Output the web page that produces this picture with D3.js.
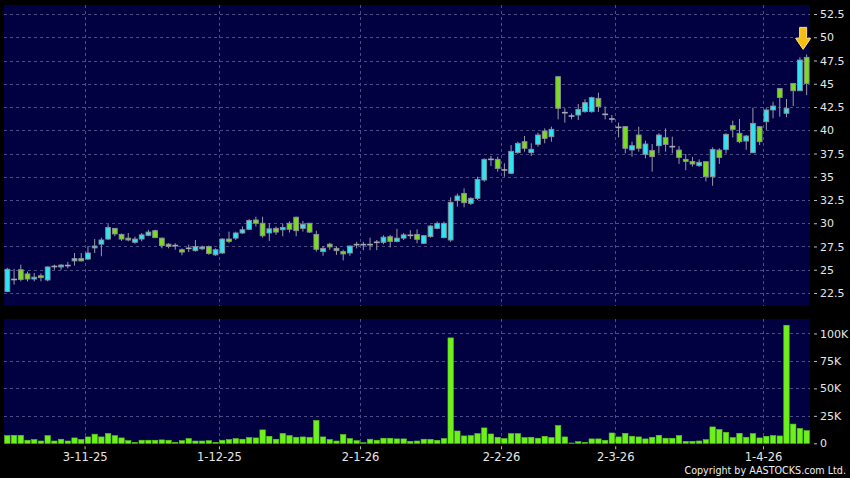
<!DOCTYPE html>
<html><head><meta charset="utf-8">
<script src="https://cdn.jsdelivr.net/npm/d3@7"></script>
<style>html,body{margin:0;padding:0;background:#000;}svg{display:block}</style>
</head><body><svg id="c" width="850" height="478"></svg>
<script>
const opens=[22.65,23.95,25.0,24.55,24.0,24.35,23.9,25.35,25.3,25.45,
25.95,26.2,26.15,27.35,27.75,28.3,29.45,28.8,28.4,27.95,
28.3,28.7,29.2,28.4,27.75,27.6,27.15,27.3,27.05,27.25,
27.5,26.6,26.8,28.3,28.4,28.95,29.35,30.35,30.0,28.95,
29.45,29.3,30.0,30.65,29.45,30.0,28.8,26.95,27.75,27.3,
26.95,26.8,27.7,27.7,27.7,27.95,27.95,28.55,28.05,28.4,
28.7,28.8,27.84,28.56,29.45,28.45,28.2,32.43,33.21,32.14,
32.68,34.65,36.87,36.87,35.73,35.37,37.59,38.77,37.59,38.49,
39.92,39.31,45.76,41.89,41.53,41.64,42.0,42.0,43.43,41.71,
41.21,40.31,40.39,37.88,39.49,37.41,37.81,38.34,39.2,38.24,
37.87,36.87,36.65,36.19,36.62,35.0,37.87,37.94,40.49,39.67,
38.84,37.58,40.38,40.92,42.18,44.5,41.82,45.04,44.25,47.84];
const highs=[25.2,25.1,25.55,24.8,24.65,24.6,25.35,25.55,25.6,25.85,
26.8,26.8,27.5,28.3,28.45,29.9,29.45,28.9,28.95,28.55,
28.95,29.3,29.3,28.45,27.85,27.85,27.3,27.7,28.2,27.6,
27.6,27.3,28.4,29.1,29.1,29.65,30.45,30.7,30.7,30.0,
29.65,29.95,30.2,30.7,30.25,30.0,29.2,27.55,27.9,27.5,
27.15,27.6,28.0,28.0,28.45,28.2,28.7,28.75,29.4,28.95,
29.25,29.35,28.73,29.8,30.17,30.17,32.79,33.2,33.75,32.79,
35.0,36.98,37.23,37.16,36.44,38.41,38.77,39.38,38.6,39.74,
40.2,40.39,45.8,42.36,41.8,42.82,43.33,43.61,44.04,42.54,
41.64,40.82,40.46,38.77,40.39,38.88,38.52,39.67,40.2,39.31,
38.3,37.45,37.13,36.87,36.62,38.16,38.06,39.67,41.03,41.21,
39.49,42.43,40.45,42.36,43.07,44.5,43.36,45.04,47.85,48.16];
const lows=[22.6,23.4,23.75,23.75,23.75,23.75,23.75,25.0,25.0,25.15,
25.45,25.9,26.05,26.8,26.45,28.2,28.6,28.1,28.05,27.8,
28.05,28.6,28.4,27.3,27.3,27.15,26.55,26.9,26.95,27.1,
26.6,26.5,26.7,27.85,28.2,28.85,29.3,29.65,28.45,28.1,
28.75,28.6,29.0,28.6,29.1,28.95,26.95,26.5,27.15,26.6,
26.0,26.5,27.3,27.1,27.1,27.1,27.75,27.4,27.95,28.2,
28.3,27.85,27.77,28.45,29.35,28.38,28.0,31.8,31.71,31.96,
32.5,34.47,36.15,35.55,35.0,35.3,37.48,37.7,37.23,38.24,
38.6,38.77,41.17,40.82,41.17,41.1,41.89,41.89,41.96,41.17,
40.82,39.24,37.52,37.16,37.7,36.98,35.55,37.52,37.7,37.52,
36.38,35.7,36.1,36.08,34.5,34.03,36.38,37.5,39.23,38.6,
37.9,37.58,38.41,40.03,41.28,41.46,41.4,42.6,44.25,43.78];
const closes=[25.05,23.95,23.95,24.0,24.2,24.15,25.3,25.35,25.5,25.45,
26.2,25.95,26.8,27.55,28.2,29.55,28.85,28.3,28.2,28.3,
28.75,29.05,28.45,27.6,27.5,27.6,26.9,27.3,27.5,27.45,
26.75,27.15,28.3,28.05,28.95,29.3,30.3,30.0,28.65,29.4,
29.05,29.55,29.35,29.2,29.9,29.05,27.2,27.3,27.45,27.05,
26.7,27.55,27.7,27.7,27.7,27.95,28.5,28.05,28.4,28.75,
28.7,28.27,28.66,29.7,29.99,29.99,32.25,32.93,32.21,32.68,
34.72,36.87,36.87,35.9,35.73,37.73,38.59,38.06,37.95,39.49,
39.13,40.1,42.36,41.89,41.53,42.25,42.97,43.5,42.54,41.71,
41.21,40.31,38.06,38.34,38.06,38.52,37.16,39.49,38.48,38.24,
37.08,36.65,36.37,36.55,35.0,37.94,37.08,39.56,40.1,38.77,
39.38,40.74,38.77,42.18,42.6,43.53,42.36,44.25,47.55,45.04];
const volumesK=[7,7.3,7.3,2.8,3.4,2.1,7,2.1,3.7,2.1,
4.9,3.4,5.8,8.3,5.8,8.9,7,4.9,2.4,0.9,
2.8,2.8,2.8,3.1,2.8,0.9,2.4,4.3,2.1,2.1,
2.4,0.9,2.8,3.4,4.3,3.7,5.2,4.9,12.2,6.4,
3.7,8.9,7,5.5,5.8,5.5,20.8,5.8,3.4,2.1,
8,4.3,2.4,0.6,3.7,2.8,4.6,4.6,4.0,4.0,
1.8,2.1,3.7,3.6,2.7,4.3,96,11.2,6.7,7,
8.8,14,8.5,5.5,4.3,8.8,8.8,5.2,5.5,4.6,
6.4,5.2,16.1,5.8,0.3,1.5,0.9,4,4,2.7,
9.4,5.8,9.1,6.4,5.8,4,5.5,7.3,4.6,4.6,
7,1.8,1.8,2.1,3.3,14.9,12.5,10,5.2,9.1,
5.5,8.8,4.9,6.4,7,6.7,107.5,17.5,13.5,11.5];
const dateLabels=["3-11-25","1-12-25","2-1-26","2-2-26","2-3-26","1-4-26"];
const dateTickIdx=[11.5,31.5,52.5,73.5,90.5,112.5];
const priceTicks=[22.5,25,27.5,30,32.5,35,37.5,40,42.5,45,47.5,50,52.5];
const volTicksK=[0,25,50,75,100];

const N=closes.length;
const svg=d3.select('#c');
const L=4,R=810,pT=5,pB=306,vT=319,vB=443.3;
const x=d3.scaleLinear().domain([-0.5,N-0.5]).range([L,R]);
const yP=d3.scaleLinear().domain([21.1,53.47]).range([pB,pT]);
const yV=d3.scaleLinear().domain([0,113.2]).range([vB,vT]);
const navy='#010141', gridC='#4b4b86';
const font='DejaVu Sans, Verdana, sans-serif';

svg.append('rect').attr('width',850).attr('height',478).attr('fill','#000');
svg.append('rect').attr('x',L).attr('y',pT).attr('width',R-L).attr('height',pB-pT).attr('fill',navy);
svg.append('rect').attr('x',L).attr('y',vT).attr('width',R-L).attr('height',vB-vT+0.5).attr('fill',navy);

// grids
const g=svg.append('g').attr('stroke',gridC).attr('stroke-width',1).attr('stroke-dasharray','3,3').attr('shape-rendering','crispEdges');
g.selectAll('.hp').data(priceTicks).join('line').attr('x1',L).attr('x2',R)
 .attr('y1',d=>Math.round(yP(d))+0.5).attr('y2',d=>Math.round(yP(d))+0.5);
g.selectAll('.hv').data(volTicksK.filter(d=>d>0)).join('line').attr('x1',L).attr('x2',R)
 .attr('y1',d=>Math.round(yV(d))+0.5).attr('y2',d=>Math.round(yV(d))+0.5);
g.selectAll('.vp').data(dateTickIdx).join('line').attr('x1',d=>Math.round(x(d))+0.5).attr('x2',d=>Math.round(x(d))+0.5).attr('y1',pT).attr('y2',pB);
g.selectAll('.vv').data(dateTickIdx).join('line').attr('x1',d=>Math.round(x(d))+0.5).attr('x2',d=>Math.round(x(d))+0.5).attr('y1',vT).attr('y2',vB);

// candles
const idx=d3.range(N);
const cg=svg.append('g');
cg.selectAll('.w').data(idx).join('line')
 .attr('x1',i=>x(i)).attr('x2',i=>x(i))
 .attr('y1',i=>yP(highs[i])).attr('y2',i=>yP(lows[i]))
 .attr('stroke','#9a9aa8').attr('stroke-width',1);
const bw=4.8;
idx.forEach(i=>{
  const o=opens[i],c=closes[i];
  if(Math.abs(o-c)<0.04){
    cg.append('line').attr('x1',x(i)-bw/2-0.5).attr('x2',x(i)+bw/2+0.5)
      .attr('y1',yP(o)).attr('y2',yP(o)).attr('stroke','#a8a8b0').attr('stroke-width',1.6);
  } else {
    const top=yP(Math.max(o,c)),bot=yP(Math.min(o,c));
    cg.append('rect').attr('x',x(i)-bw/2).attr('width',bw)
      .attr('y',top).attr('height',Math.max(1.5,bot-top))
      .attr('fill',c>o?'#2fe3f1':'#7bdc1f').attr('stroke','#8e8e96').attr('stroke-width',0.9);
  }
});

// volume bars
svg.append('g').selectAll('rect').data(idx).join('rect')
 .attr('x',i=>x(i)-2.7).attr('width',5.4)
 .attr('y',i=>yV(volumesK[i])).attr('height',i=>vB-yV(volumesK[i]))
 .attr('fill','#6ef01c').attr('stroke','#58c818').attr('stroke-width',0.6);

// axes
function styleAxis(sel){
  sel.select('.domain').remove();
  sel.selectAll('line').attr('stroke','#bbbbbb');
  sel.selectAll('text').attr('fill','#e6e6e6').attr('font-family',font);
}
svg.append('g').attr('transform',`translate(${R+4},0)`)
 .call(d3.axisRight(yP).tickValues(priceTicks).tickSize(3).tickPadding(3).tickFormat(d=>String(d)))
 .call(styleAxis).selectAll('text').attr('font-size',11);
svg.append('g').attr('transform',`translate(${R+4},0)`)
 .call(d3.axisRight(yV).tickValues(volTicksK).tickSize(3).tickPadding(3).tickFormat(d=>d===0?'0':d+'K'))
 .call(styleAxis).selectAll('text').attr('font-size',11);
svg.append('g').attr('transform',`translate(0,${vB+3})`)
 .call(d3.axisBottom(x).tickValues(dateTickIdx).tickSize(3).tickPadding(4).tickFormat((d,i)=>dateLabels[i]))
 .call(styleAxis).selectAll('text').attr('font-size',11.5);

// arrow marker above last candle
const ax=x(N-1)-3.5, tip=yP(highs[N-1])-5;
svg.append('path')
 .attr('d',`M${ax-3.5},${tip-22}L${ax+3.5},${tip-22}L${ax+3.5},${tip-11}L${ax+7.5},${tip-11}L${ax},${tip}L${ax-7.5},${tip-11}L${ax-3.5},${tip-11}Z`)
 .attr('fill','#f4bf12').attr('stroke','#ffe27a').attr('stroke-width',1);

svg.append('text').attr('x',846).attr('y',474).attr('text-anchor','end')
 .attr('font-family',font).attr('font-size',9.6).attr('fill','#eeeeee')
 .text('Copyright by AASTOCKS.com Ltd.');
</script></body></html>
